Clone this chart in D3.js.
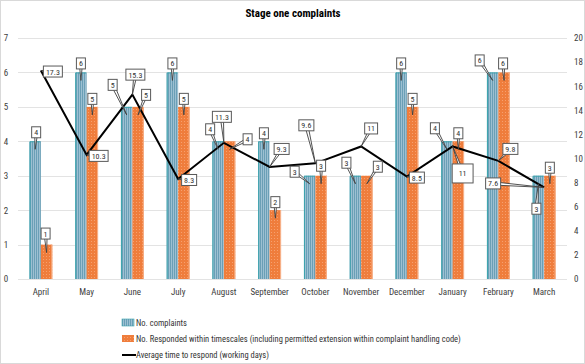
<!DOCTYPE html>
<html><head><meta charset="utf-8">
<script src="https://cdn.jsdelivr.net/npm/d3@7"></script>
<style>
html,body{margin:0;padding:0;background:#fff;}
svg{display:block;}
text{font-family:"Liberation Sans Narrow","Roboto Condensed","Liberation Sans",sans-serif;}
</style></head>
<body>
<svg id="chart" width="585" height="364"></svg>
<script>
// ---- data ----
const months = ["April","May","June","July","August","September","October","November","December","January","February","March"];
const complaints = [4,6,5,6,4,4,3,3,6,4,6,3];
const responded = [1,5,5,5,4,2,3,3,5,4,6,3];
const avgDays = [17.3,10.3,15.3,8.3,11.3,9.3,9.6,11,8.5,11,9.8,7.6];
const leftTicks = [0,1,2,3,4,5,6,7];
const rightTicks = [0,2,4,6,8,10,12,14,16,18,20];
const seriesNames = ["No. complaints","No. Responded within timescales (including permitted extension within complaint handling code)","Average time to respond (working days)"];
const title = "Stage one complaints";

// ---- layout of callout boxes (offsets of box centre from pointer tip, px) ----
const complaintsCallout = [[1,-17],[0,-17],[-14,-30],[0,-17],[-8,-20],[0,-16],[-15,-12],[-9,-21],[0,-17],[-12,-21],[-13,-20],[-2,25]];
const respondedCallout = [[-1,-19],[0,-16],[8,-20],[0,-16],[18,-10],[0,-16],[0,-18],[11,-17],[0,-16],[0,-16],[-1,-17],[0,-16]];
const avgCallout = [[12,1],[12,1],[3,-20],[11,1],[-2,-26],[12,-18],[-9,-38],[10,-18],[10,1],[10,27],[12,-12],[-51,-4]];

const W = 585, H = 364;
const plot = {left:18, right:567, top:38, bottom:279};
const svg = d3.select("#chart");

// frame
svg.append("rect").attr("x",0.5).attr("y",0.5).attr("width",W-1).attr("height",H-1)
  .attr("fill","#fff").attr("stroke","#d9d9d9");

// patterns
const defs = svg.append("defs");
const pb = defs.append("pattern").attr("id","blueStripe").attr("patternUnits","userSpaceOnUse")
  .attr("width",2).attr("height",4);
pb.append("rect").attr("width",2).attr("height",4).attr("fill","#9dc0d2");
pb.append("rect").attr("width",1).attr("height",4).attr("fill","#6a9fb6");
const po = defs.append("pattern").attr("id","orangeDot").attr("patternUnits","userSpaceOnUse")
  .attr("width",3).attr("height",3);
po.append("rect").attr("width",3).attr("height",3).attr("fill","#ef7d3c");
po.append("rect").attr("x",1).attr("y",1).attr("width",1).attr("height",1).attr("fill","#f6a06e");

// scales
const x = d3.scaleBand().domain(months).range([plot.left, plot.right]).paddingInner(0.5).paddingOuter(0.25);
const x1 = d3.scaleBand().domain(["c","r"]).range([0, x.bandwidth()]);
const yL = d3.scaleLinear().domain([0,7]).range([plot.bottom, plot.top]);
const yR = d3.scaleLinear().domain([0,20]).range([plot.bottom, plot.top]);

// gridlines
svg.append("g").selectAll("line").data(leftTicks).join("line")
  .attr("x1",plot.left).attr("x2",plot.right)
  .attr("y1",d=>Math.round(yL(d))+0.5).attr("y2",d=>Math.round(yL(d))+0.5)
  .attr("stroke","#e3e3e3").attr("stroke-width",1);

// left axis
const axL = d3.axisLeft(yL).tickValues(leftTicks).tickFormat(d3.format("d")).tickSize(0).tickPadding(0);
const gL = svg.append("g").attr("transform","translate(9,0)").call(axL);
gL.select(".domain").remove();
gL.selectAll("text").attr("font-size",9).attr("fill","#404040").attr("text-anchor","middle").attr("x",-3);

// right axis
const axR = d3.axisRight(yR).tickValues(rightTicks).tickFormat(d3.format("d")).tickSize(0).tickPadding(0);
const gR = svg.append("g").attr("transform","translate(574,0)").call(axR);
gR.select(".domain").remove();
gR.selectAll("text").attr("font-size",9).attr("fill","#404040");

// x axis labels
const axB = d3.axisBottom(x).tickSize(0).tickPadding(0);
const gB = svg.append("g").attr("transform",`translate(0,${plot.bottom+10})`).call(axB);
gB.select(".domain").remove();
gB.selectAll("text").attr("font-size",9).attr("fill","#404040");

// bars
const bars = svg.append("g");
bars.selectAll("rect.c").data(months).join("rect").attr("class","c")
  .attr("x",(d)=>x(d)+x1("c")).attr("width",x1.bandwidth())
  .attr("y",(d,i)=>yL(complaints[i])).attr("height",(d,i)=>yL(0)-yL(complaints[i]))
  .attr("fill","url(#blueStripe)");
bars.selectAll("path.cb").data(months).join("path").attr("class","cb")
  .attr("d",(d,i)=>{const x0=x(d)+x1("c")+0.5, y0=yL(complaints[i])+0.5, w=x1.bandwidth()-1;
    return `M${x0},${yL(0)}V${y0}H${x0+w}`;})
  .attr("fill","none").attr("stroke","#3aa3ad").attr("stroke-width",1);
bars.selectAll("rect.r").data(months).join("rect").attr("class","r")
  .attr("x",(d)=>x(d)+x1("r")).attr("width",x1.bandwidth())
  .attr("y",(d,i)=>yL(responded[i])).attr("height",(d,i)=>yL(0)-yL(responded[i]))
  .attr("fill","url(#orangeDot)");
bars.selectAll("line.re").data(months).join("line").attr("class","re")
  .attr("x1",(d)=>x(d)+x1("r")+x1.bandwidth()-0.5).attr("x2",(d)=>x(d)+x1("r")+x1.bandwidth()-0.5)
  .attr("y1",(d,i)=>yL(responded[i])).attr("y2",yL(0))
  .attr("stroke","#f7b38c").attr("stroke-width",1);

// line
const cx = d=>x(d)+x.bandwidth()/2;
const line = d3.line().x((d,i)=>cx(months[i])).y(d=>yR(d));
svg.append("path").datum(avgDays).attr("d",line)
  .attr("fill","none").attr("stroke","#000").attr("stroke-width",2).attr("stroke-linejoin","miter");

// callouts
const cg = svg.append("g");
function callout(tx, ty, off, label, big){
  const bx = tx+off[0], by = ty+off[1];
  const t = cg.append("text").attr("font-size",8).attr("fill","#333").text(label)
    .attr("text-anchor","middle").attr("x",bx).attr("y",by+3);
  const tw = t.node().getComputedTextLength();
  const w = Math.max(9, tw+5) + (big?8:0), h = 11 + (big?8:0);
  // wedge
  const ang = Math.atan2(ty-by, tx-bx);
  const nx = -Math.sin(ang)*1.6, ny = Math.cos(ang)*1.6;
  cg.insert("path", "text").attr("d",`M${bx+nx},${by+ny}L${tx},${ty}L${bx-nx},${by-ny}Z`)
    .attr("fill","#fff").attr("stroke","#404040").attr("stroke-width",0.9);
  cg.insert("rect","text").attr("x",bx-w/2).attr("y",by-h/2).attr("width",w).attr("height",h)
    .attr("fill","#fff").attr("stroke","#595959").attr("stroke-width",1);
}
months.forEach((m,i)=>{
  callout(x(m)+x1("c")+x1.bandwidth()/2, yL(complaints[i])+8, complaintsCallout[i], complaints[i]);
  callout(x(m)+x1("r")+x1.bandwidth()/2, yL(responded[i])+8, respondedCallout[i], responded[i]);
  callout(cx(m), yR(avgDays[i]), avgCallout[i], avgDays[i], m==="January");
});

// title
svg.append("text").attr("x",293).attr("y",17).attr("text-anchor","middle")
  .attr("font-size",11).attr("font-weight","bold").attr("fill","#000").text(title);

// legend
const lg = svg.append("g");
const ly = [323,339,355];
lg.append("rect").attr("x",122).attr("y",ly[0]-4).attr("width",12).attr("height",7).attr("fill","url(#blueStripe)").attr("stroke","#3aa3ad").attr("stroke-width",0.6);
lg.append("rect").attr("x",122).attr("y",ly[1]-4).attr("width",12).attr("height",7).attr("fill","url(#orangeDot)");
lg.append("line").attr("x1",122).attr("x2",136).attr("y1",ly[2]).attr("y2",ly[2]).attr("stroke","#000").attr("stroke-width",2);
seriesNames.forEach((s,i)=>{
  lg.append("text").attr("x",136).attr("y",ly[i]+3).attr("font-size",8.5).attr("fill","#333").text(s);
});
</script>
</body></html>
